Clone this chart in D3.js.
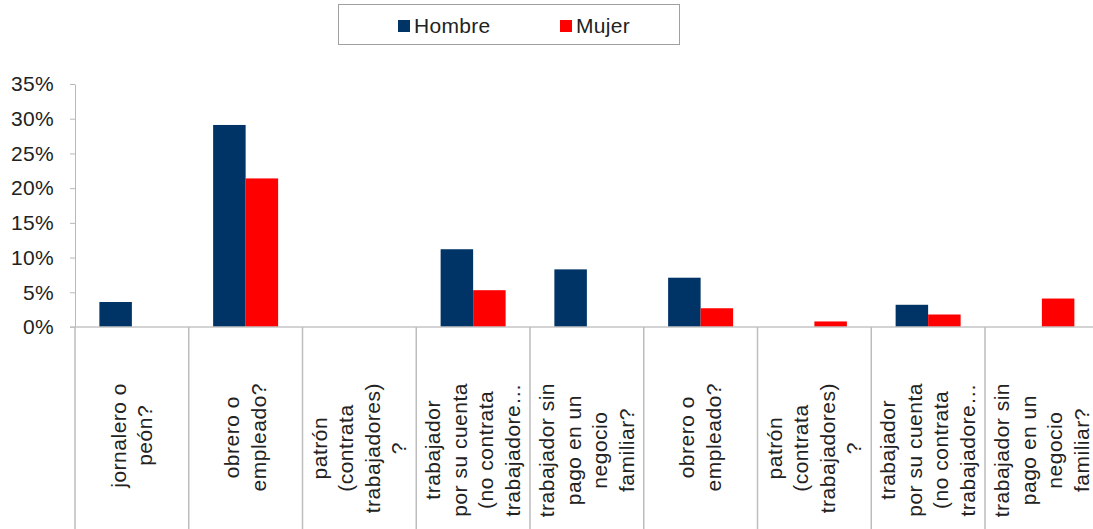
<!DOCTYPE html>
<html>
<head>
<meta charset="utf-8">
<script src="https://cdn.jsdelivr.net/npm/d3@7"></script>
<style>
  body { margin: 0; background: #fff; }
  svg text { font-family: "Liberation Sans", Arial, sans-serif; fill: #222; }
</style>
</head>
<body>
<svg id="chart" width="1093" height="529"></svg>
<script>
// categories (each label split in lines as shown)
const categories = [
  ["jornalero o", "peón?"],
  ["obrero o", "empleado?"],
  ["patrón", "(contrata", "trabajadores)", "?"],
  ["trabajador", "por su cuenta", "(no contrata", "trabajadore…"],
  ["trabajador sin", "pago en un", "negocio", "familiar?"],
  ["obrero o", "empleado?"],
  ["patrón", "(contrata", "trabajadores)", "?"],
  ["trabajador", "por su cuenta", "(no contrata", "trabajadore…"],
  ["trabajador sin", "pago en un", "negocio", "familiar?"]
];
const seriesNames = ["Hombre", "Mujer"];
const hombre = [3.6, 29.1, 0, 11.2, 8.3, 7.1, 0, 3.2, 0];
const mujer  = [0, 21.4, 0, 5.3, 0, 2.7, 0.8, 1.8, 4.1];
const yTicks = [0, 5, 10, 15, 20, 25, 30, 35];
const colors = ["#003366", "#ff0000"];

const svg = d3.select("#chart");
const plotLeft = 75, plotTop = 84, plotBottom = 327, bandW = 113.75;

const x0 = d3.scaleBand()
  .domain(d3.range(categories.length))
  .range([plotLeft, plotLeft + bandW * categories.length])
  .padding(0);
const x1 = d3.scaleBand()
  .domain(seriesNames)
  .range([0, x0.bandwidth()])
  .paddingInner(0)
  .paddingOuter(0.75);
const y = d3.scaleLinear().domain([0, 35]).range([plotBottom, plotTop]);
const color = d3.scaleOrdinal().domain(seriesNames).range(colors);

// y axis
const yAxis = d3.axisLeft(y)
  .tickValues(yTicks)
  .tickFormat(d => d + "%")
  .tickSizeInner(5)
  .tickSizeOuter(0)
  .tickPadding(16);
const gy = svg.append("g").attr("transform", `translate(${plotLeft},0)`).call(yAxis);
gy.select(".domain").attr("stroke", "#b8b8b8");
gy.selectAll(".tick line").attr("stroke", "#b8b8b8");
gy.selectAll(".tick text")
  .style("font-size", "21px")
  .style("letter-spacing", "0.3px")
  .attr("fill", "#222");

// bars
const rows = categories.map((c, i) => ({ i, values: [hombre[i], mujer[i]] }));
const groups = svg.append("g").selectAll("g")
  .data(rows).join("g")
  .attr("transform", d => `translate(${x0(d.i)},0)`);
groups.selectAll("rect")
  .data(d => seriesNames.map((s, k) => ({ s, v: d.values[k] })))
  .join("rect")
  .attr("x", d => x1(d.s))
  .attr("width", x1.bandwidth())
  .attr("y", d => y(d.v))
  .attr("height", d => y(0) - y(d.v))
  .attr("fill", d => color(d.s));

// category axis line + separators
svg.append("line")
  .attr("x1", plotLeft - 5).attr("x2", 1093)
  .attr("y1", y(0)).attr("y2", y(0))
  .attr("stroke", "#c4c4c4").attr("stroke-width", 1.5);
const seps = d3.range(categories.length + 1).map(i => plotLeft + i * bandW);
svg.append("g").selectAll("line")
  .data(seps).join("line")
  .attr("x1", d => d).attr("x2", d => d)
  .attr("y1", y(0)).attr("y2", 529)
  .attr("stroke", "#bdbdbd").attr("stroke-width", 1.5);

// category labels (rotated, lines centred, longest line starts under the axis)
const labelTop = 383, lineH = 26.5;
categories.forEach((lines, i) => {
  const cx = x0(i) + x0.bandwidth() / 2;
  const g = svg.append("g");
  const t = g.append("text")
    .style("font-size", "21px")
    .style("letter-spacing", "0.5px")
    .attr("text-anchor", "middle");
  lines.forEach((ln, k) => {
    t.append("tspan").attr("x", 0).attr("y", (k - (lines.length - 1) / 2) * lineH + 7).text(ln);
  });
  const maxLen = d3.max(t.selectAll("tspan").nodes(), n => n.getComputedTextLength());
  g.attr("transform", `translate(${cx},${labelTop + maxLen / 2}) rotate(-90)`);
});

// legend
const lg = svg.append("g");
lg.append("rect")
  .attr("x", 338.5).attr("y", 4.5).attr("width", 341).attr("height", 40)
  .attr("fill", "#fff").attr("stroke", "#a0a0a0");
const legendX = [398, 560];
seriesNames.forEach((s, k) => {
  lg.append("rect").attr("x", legendX[k]).attr("y", 20).attr("width", 12).attr("height", 12)
    .attr("fill", color(s));
  lg.append("text").attr("x", legendX[k] + 16).attr("y", 33)
    .style("font-size", "21px").style("letter-spacing", "0.3px")
    .text(s);
});
</script>
</body>
</html>
